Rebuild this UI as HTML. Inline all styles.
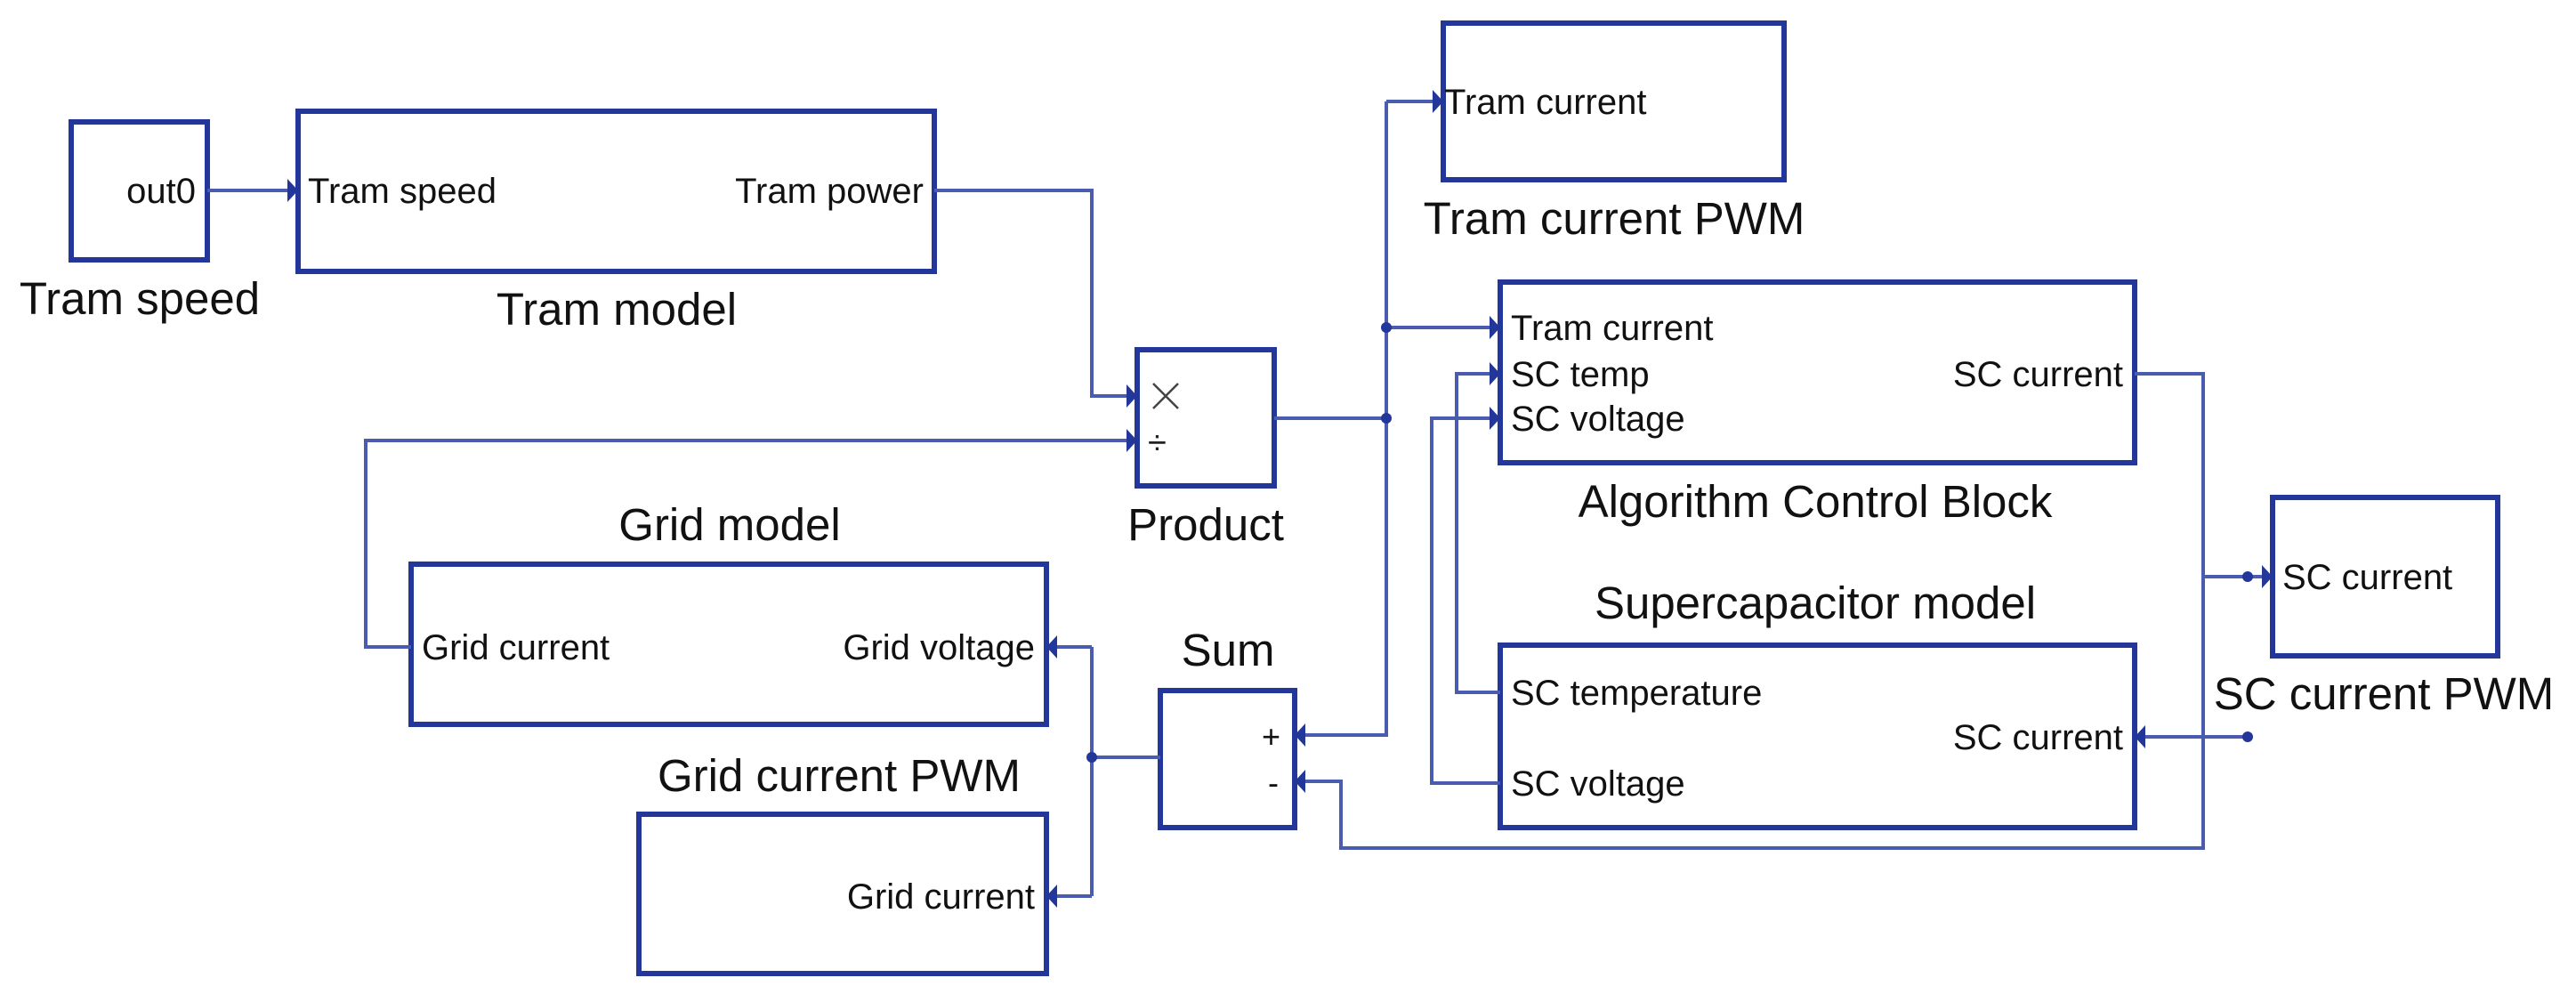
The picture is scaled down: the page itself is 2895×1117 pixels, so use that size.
<!DOCTYPE html>
<html><head><meta charset="utf-8"><style>
html,body{margin:0;padding:0;background:#fff;}
svg{display:block;}
.b{fill:none;stroke:#23379a;stroke-width:6;}
.c{fill:none;stroke:#4a5cb0;stroke-width:4;}
.p{font-family:"Liberation Sans",sans-serif;font-size:40px;fill:#111;}
.l{font-family:"Liberation Sans",sans-serif;font-size:51px;fill:#111;}
.a{fill:#23379a;}
</style></head><body>
<svg width="2895" height="1117" viewBox="0 0 2895 1117" xmlns="http://www.w3.org/2000/svg">
<rect class="b" x="80" y="137" width="153" height="155"/>
<rect class="b" x="335" y="125" width="715" height="180"/>
<rect class="b" x="1278" y="393" width="154" height="153"/>
<rect class="b" x="462" y="634" width="714" height="180"/>
<rect class="b" x="718" y="915" width="458" height="179"/>
<rect class="b" x="1304" y="776" width="151" height="154"/>
<rect class="b" x="1622" y="26" width="383" height="176"/>
<rect class="b" x="1686" y="317" width="713" height="203"/>
<rect class="b" x="1686" y="725" width="713" height="205"/>
<rect class="b" x="2554" y="559" width="253" height="178"/>

<polyline class="c" points="233,214 325,214"/>
<polyline class="c" points="1050,214 1227,214 1227,445 1268,445"/>
<polyline class="c" points="462,727 411,727 411,495 1268,495"/>
<polyline class="c" points="1432,470 1558,470"/>
<polyline class="c" points="1558,114 1558,826 1465,826"/>
<polyline class="c" points="1558,114 1612,114"/>
<polyline class="c" points="1558,368 1676,368"/>
<polyline class="c" points="1686,778 1637,778 1637,420 1676,420"/>
<polyline class="c" points="1686,880 1609,880 1609,470 1676,470"/>
<polyline class="c" points="2399,420 2476,420 2476,953 1507,953 1507,878 1465,878"/>
<polyline class="c" points="2476,648 2544,648"/>
<polyline class="c" points="2526,828 2409,828"/>
<polyline class="c" points="1304,851 1227,851"/>
<polyline class="c" points="1227,727 1227,1007"/>
<polyline class="c" points="1227,727 1186,727"/>
<polyline class="c" points="1227,1007 1186,1007"/>

<g class="a">
<polygon points="323,201 335,214 323,227"/>
<polygon points="1266,432 1278,445 1266,458"/>
<polygon points="1266,482 1278,495 1266,508"/>
<polygon points="1610,101 1622,114 1610,127"/>
<polygon points="1674,355 1686,368 1674,381"/>
<polygon points="1674,407 1686,420 1674,433"/>
<polygon points="1674,457 1686,470 1674,483"/>
<polygon points="2542,635 2554,648 2542,661"/>
<polygon points="1467,813 1455,826 1467,839"/>
<polygon points="1467,865 1455,878 1467,891"/>
<polygon points="2411,815 2399,828 2411,841"/>
<polygon points="1188,714 1176,727 1188,740"/>
<polygon points="1188,994 1176,1007 1188,1020"/>
<circle cx="1558" cy="470" r="6"/>
<circle cx="1558" cy="368" r="6"/>
<circle cx="1227" cy="851" r="6"/>
<circle cx="2526" cy="828" r="6"/>
<circle cx="2526" cy="648" r="6"/>
</g>

<text class="p" x="220" y="228" text-anchor="end">out0</text>
<text class="p" x="346" y="228">Tram speed</text>
<text class="p" x="1038" y="228" text-anchor="end">Tram power</text>
<path d="M1296,431 L1324,459 M1324,431 L1296,459" stroke="#444" stroke-width="2.5" fill="none"/>
<text x="1290" y="510" style="font-family:'Liberation Sans',sans-serif;font-size:38px;fill:#222">÷</text>
<text class="p" x="474" y="741">Grid current</text>
<text class="p" x="1163" y="741" text-anchor="end">Grid voltage</text>
<text class="p" x="1163" y="1021" text-anchor="end">Grid current</text>
<text x="1439" y="840" text-anchor="end" style="font-family:'Liberation Sans',sans-serif;font-size:36px;fill:#111">+</text>
<text x="1437" y="892" text-anchor="end" style="font-family:'Liberation Sans',sans-serif;font-size:36px;fill:#111">-</text>
<text class="p" x="1623" y="128">Tram current</text>
<text class="p" x="1698" y="382">Tram current</text>
<text class="p" x="1698" y="434">SC temp</text>
<text class="p" x="1698" y="484">SC voltage</text>
<text class="p" x="2386" y="434" text-anchor="end">SC current</text>
<text class="p" x="1698" y="792">SC temperature</text>
<text class="p" x="1698" y="894">SC voltage</text>
<text class="p" x="2386" y="842" text-anchor="end">SC current</text>
<text class="p" x="2565" y="662">SC current</text>

<text class="l" x="157" y="353" text-anchor="middle">Tram speed</text>
<text class="l" x="693" y="365" text-anchor="middle">Tram model</text>
<text class="l" x="1355" y="607" text-anchor="middle">Product</text>
<text class="l" x="820" y="607" text-anchor="middle">Grid model</text>
<text class="l" x="1380" y="748" text-anchor="middle">Sum</text>
<text class="l" x="943" y="889" text-anchor="middle">Grid current PWM</text>
<text class="l" x="1814" y="263" text-anchor="middle">Tram current PWM</text>
<text class="l" x="2040" y="581" text-anchor="middle">Algorithm Control Block</text>
<text class="l" x="2040" y="695" text-anchor="middle">Supercapacitor model</text>
<text class="l" x="2679" y="797" text-anchor="middle">SC current PWM</text>
</svg>
</body></html>
